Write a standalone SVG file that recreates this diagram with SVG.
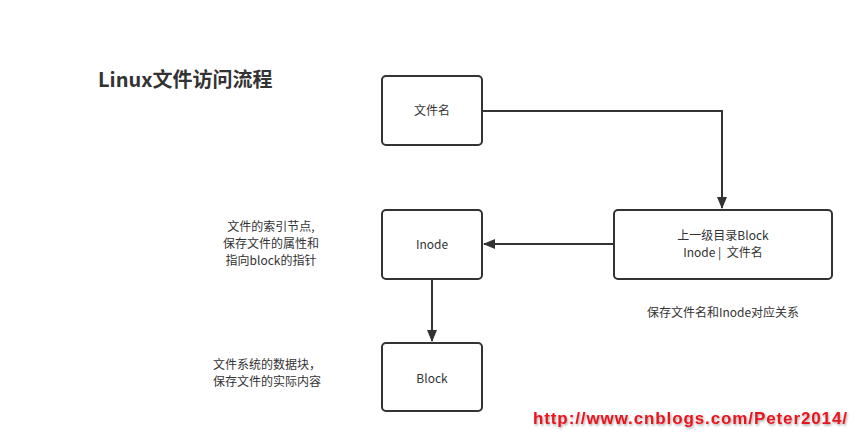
<svg xmlns="http://www.w3.org/2000/svg" width="864" height="445" viewBox="0 0 864 445">
<style>
.box{fill:#fff;stroke:#333;stroke-width:2}
.t{font-family:"Microsoft YaHei","Noto Sans CJK SC",sans-serif;font-size:12px;fill:#333}
.c{text-anchor:middle}
.line{fill:none;stroke:#333;stroke-width:2}
</style>
<defs>
<marker id="arr" viewBox="0 0 12 12" refX="11" refY="6" markerWidth="12" markerHeight="12" markerUnits="userSpaceOnUse" orient="auto"><path d="M0,1 L12,6 L0,11 z" fill="#333"/></marker>
<filter id="sh" x="-5%" y="-30%" width="110%" height="160%"><feDropShadow dx="1" dy="1.5" stdDeviation="1" flood-color="#000" flood-opacity="0.35"/></filter>
</defs>
<rect width="864" height="445" fill="#fff"/>
<text x="98" y="87" font-family="'Noto Sans CJK SC',sans-serif" font-size="20" font-weight="bold" fill="#333">Linux文件访问流程</text>
<g id="connectors">
<path class="line" d="M482,111 H722 V208" marker-end="url(#arr)"/>
<path class="line" d="M614,244 H484" marker-end="url(#arr)"/>
<path class="line" d="M432,279 V341" marker-end="url(#arr)"/>
</g>
<g id="filename"><rect class="box" x="382" y="76" width="100" height="69" rx="4"/><text class="t c" x="432" y="115">文件名</text></g>
<g id="inode"><rect class="box" x="382" y="210" width="100" height="69" rx="4"/><text class="t c" x="432" y="249">Inode</text></g>
<g id="block"><rect class="box" x="382" y="343" width="100" height="68" rx="4"/><text class="t c" x="432" y="383">Block</text></g>
<g id="dirblock"><rect class="box" x="614" y="210" width="218" height="69" rx="4"/><text class="t c" x="723" y="240">上一级目录Block</text><text class="t c" x="723" y="257" xml:space="preserve">Inode |  文件名</text></g>
<g id="notes">
<text class="t c" x="271" y="231">文件的索引节点,</text>
<text class="t c" x="271" y="248">保存文件的属性和</text>
<text class="t c" x="271" y="265">指向block的指针</text>
<text class="t c" x="267" y="369">文件系统的数据块，</text>
<text class="t c" x="267" y="386">保存文件的实际内容</text>
<text class="t c" x="723" y="317">保存文件名和Inode对应关系</text>
</g>
<text x="533" y="424" font-family="'Liberation Sans',sans-serif" font-size="17" font-weight="bold" fill="#e8141e" filter="url(#sh)" textLength="314">http://www.cnblogs.com/Peter2014/</text>
</svg>
